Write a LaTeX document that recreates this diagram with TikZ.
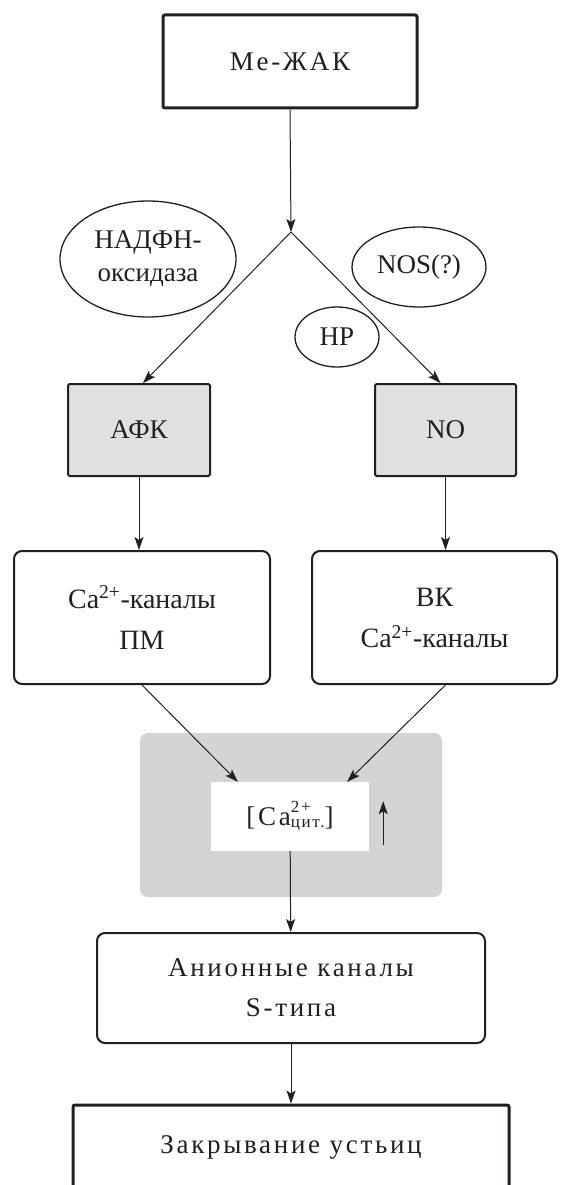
\documentclass[tikz,border=0pt]{standalone}
\usepackage{fontspec}
\setmainfont{Liberation Serif}
\newfontfamily\wide[LetterSpace=10]{Liberation Serif}
\usetikzlibrary{arrows.meta,shapes.geometric}
\definecolor{boxgray}{RGB}{224,224,226}
\definecolor{panelgray}{RGB}{212,212,214}
\definecolor{ink}{RGB}{35,31,32}
\newcommand{\idx}[2]{\raisebox{#1}{\fontsize{17}{17}\selectfont #2}}
\tikzset{
	arr/.style={-{Stealth[length=13pt,width=9pt,inset=3pt]}, line width=1pt, ink},
	heavybox/.style={draw=ink, line width=3pt, rounded corners=2pt, inner sep=0pt},
	roundbox/.style={draw=ink, line width=2pt, rounded corners=8pt, align=center, inner sep=0pt},
	graybox/.style={draw=ink, fill=boxgray, line width=2pt, rounded corners=1.5pt, inner sep=0pt},
	oval/.style={draw=ink, ellipse, line width=1.3pt, align=center, inner sep=0pt},
}
\begin{document}
\begin{tikzpicture}[x=1pt, y=-1pt, font=\fontsize{27}{33}\selectfont, text=ink]
	\useasboundingbox (0,0) rectangle (560,1185);
	% top
	\node[heavybox, minimum width=254, minimum height=93] (mezhak) at (290,61.5) {\wide Me-ЖАК};
	\coordinate (j) at (291,232);
	\draw[arr] (mezhak.south) -- (j);
	% enzymes
	\node[oval, minimum width=176, minimum height=116] (nadph) at (148,259) {НАДФН-\\оксидаза};
	\node[oval, minimum width=134, minimum height=80] (nos) at (419,267) {NOS(?)};
	\node[oval, minimum width=84, minimum height=60] (nr) at (337,337) {НР};
	% messengers
	\node[graybox, minimum width=142, minimum height=92] (afk) at (139,430) {АФК};
	\node[graybox, minimum width=141, minimum height=92] (no) at (445.5,430) {NO};
	\draw[arr] (j) -- ([xshift=4]afk.north);
	\draw[arr] (j) -- ([xshift=-5]no.north);
	% channels
	\node[roundbox, minimum width=256, minimum height=133, font=\fontsize{28}{41}\selectfont] (capm) at (142,617.5) {Ca\textsuperscript{2+}-каналы\\ПМ};
	\node[roundbox, minimum width=245, minimum height=133, font=\fontsize{28}{41}\selectfont] (cavk) at (434.5,617.5) {ВК\\Ca\textsuperscript{2+}-каналы};
	\draw[arr] (afk) -- (afk |- capm.north);
	\draw[arr] (no) -- (no |- cavk.north);
	% cytosolic calcium
	\node[fill=panelgray, rounded corners=8pt, minimum width=302, minimum height=164] (panel) at (291,815) {};
	\node[fill=white, minimum width=158, minimum height=69, inner sep=0pt] (cyt) at (290,816.5) {\wide[Ca\rlap{\idx{13pt}{2+}}\idx{-2pt}{цит.}]};
	\draw[arr] (capm.south) -- ([xshift=27]cyt.north west);
	\draw[arr] (cavk.south -| no) -- ([xshift=-22]cyt.north east);
	\draw[arr] ([xshift=14,yshift=6]cyt.south east) -- ([xshift=14,yshift=50]cyt.south east);
	% anion channels
	\node[roundbox, minimum width=388, minimum height=110, font=\fontsize{27}{40}\selectfont] (anion) at (291,988) {\wide Анионные каналы\\\wide S-типа};
	\draw[arr] (cyt) -- (anion);
	% result
	\node[heavybox, minimum width=436, minimum height=90] (stomata) at (291,1150) {};
	\node (stomtext) at (291,1147) {\wide Закрывание устьиц};
	\draw[arr] (anion) -- (stomata);
\end{tikzpicture}
\end{document}
